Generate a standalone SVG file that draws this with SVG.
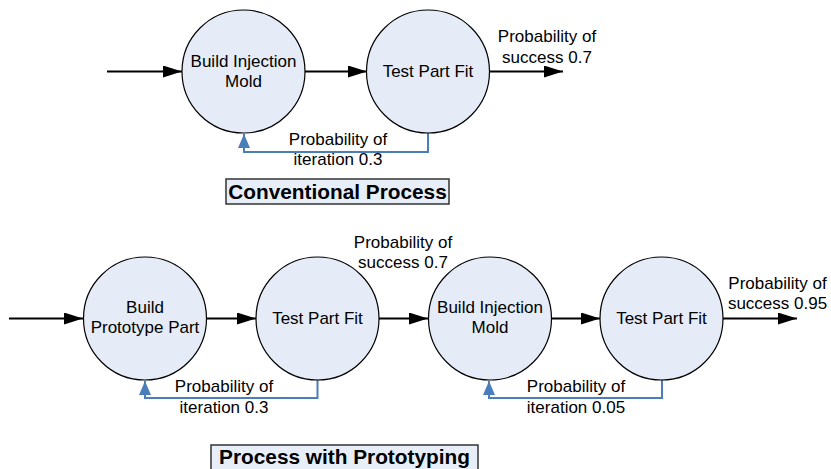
<svg xmlns="http://www.w3.org/2000/svg" width="831" height="469" viewBox="0 0 831 469">
<style>
  .node circle { fill: #e6ecf7; stroke: #000; stroke-width: 1.2; }
  text { font-family: "Liberation Sans", Arial, sans-serif; font-size: 17px; fill: #000; text-anchor: middle; }
  .title { font-weight: bold; font-size: 20.8px; }
  .flow { stroke: #000; stroke-width: 2; fill: none; marker-end: url(#ah); }
  .loop { stroke: #4a7ebb; stroke-width: 2; fill: none; marker-end: url(#bh); }
  .tbox { fill: #e8eef8; stroke: #333; stroke-width: 1.5; }
</style>
<defs>
  <marker id="ah" markerWidth="19" markerHeight="12" refX="19" refY="6" orient="auto" markerUnits="userSpaceOnUse">
    <path d="M0,0 L19,6 L0,12 Z" fill="#000"/>
  </marker>
  <marker id="bh" markerWidth="14" markerHeight="12" refX="14" refY="6" orient="auto" markerUnits="userSpaceOnUse">
    <path d="M0,0 L14,6 L0,12 Z" fill="#4a7ebb"/>
  </marker>
</defs>
<rect width="831" height="469" fill="#fff"/>

<g id="connectors">
  <path class="flow" d="M107,71.5 L182,71.5"/>
  <path class="flow" d="M305,71.5 L367,71.5"/>
  <path class="flow" d="M489,71.5 L563,71.5"/>
  <path class="loop" d="M428,133 L428,152 L244,152 L244,134"/>

  <path class="flow" d="M9,318.5 L83,318.5"/>
  <path class="flow" d="M207,318.5 L256,318.5"/>
  <path class="flow" d="M379,318.5 L428,318.5"/>
  <path class="flow" d="M552,318.5 L600,318.5"/>
  <path class="flow" d="M723,318.5 L797,318.5"/>
  <path class="loop" d="M317.5,380 L317.5,398 L145,398 L145,381"/>
  <path class="loop" d="M662,380 L662,398 L489,398 L489,381"/>
</g>

<g id="n_top_mold" class="node">
  <circle cx="243.5" cy="71.5" r="61.5"/>
  <text x="243.5" y="67">Build Injection</text>
  <text x="243.5" y="86.5">Mold</text>
</g>
<g id="n_top_test" class="node">
  <circle cx="428" cy="71.5" r="61.5"/>
  <text x="428" y="77">Test Part Fit</text>
</g>

<g id="n_proto" class="node">
  <circle cx="145" cy="318.5" r="61.5"/>
  <text x="145" y="312.5">Build</text>
  <text x="145" y="332.5">Prototype Part</text>
</g>
<g id="n_test1" class="node">
  <circle cx="317.5" cy="318.5" r="61.5"/>
  <text x="317.5" y="324">Test Part Fit</text>
</g>
<g id="n_mold" class="node">
  <circle cx="490" cy="318.5" r="61.5"/>
  <text x="490" y="312.5">Build Injection</text>
  <text x="490" y="332.5">Mold</text>
</g>
<g id="n_test2" class="node">
  <circle cx="661.5" cy="318.5" r="61.5"/>
  <text x="661.5" y="324">Test Part Fit</text>
</g>

<g id="labels">
  <text x="547" y="42">Probability of</text>
  <text x="547" y="62.5">success 0.7</text>
  <text x="338" y="145">Probability of</text>
  <text x="338" y="165">iteration 0.3</text>

  <text x="403" y="248">Probability of</text>
  <text x="403" y="268">success 0.7</text>
  <text x="777.5" y="289">Probability of</text>
  <text x="777.5" y="309">success 0.95</text>
  <text x="224" y="392">Probability of</text>
  <text x="224" y="412.5">iteration 0.3</text>
  <text x="576" y="392">Probability of</text>
  <text x="576" y="412.5">iteration 0.05</text>
</g>

<g id="title_conventional">
  <rect class="tbox" x="226" y="179" width="223" height="25"/>
  <text class="title" x="337.5" y="199">Conventional Process</text>
</g>
<g id="title_prototyping">
  <rect class="tbox" x="211" y="445" width="267" height="30"/>
  <text class="title" x="344.5" y="464">Process with Prototyping</text>
</g>
</svg>
